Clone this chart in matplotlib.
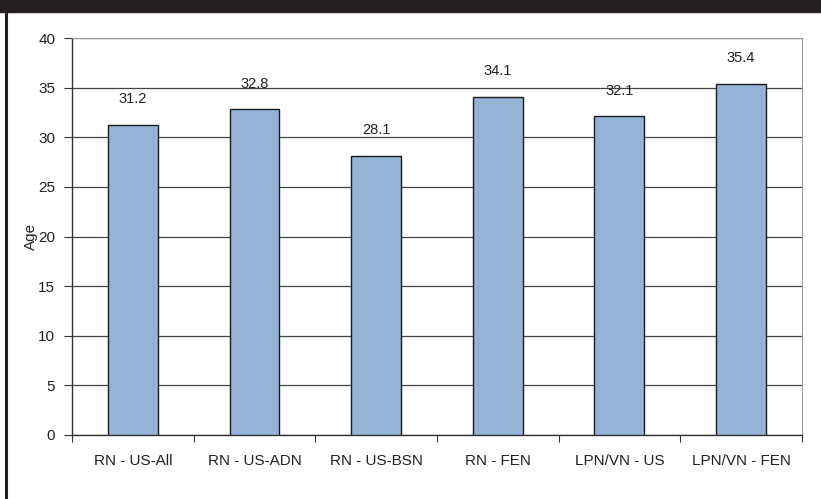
import matplotlib.pyplot as plt
from matplotlib.patches import Rectangle
from matplotlib.lines import Line2D

plt.rcParams['font.family'] = ['Liberation Sans', 'DejaVu Sans']

categories = ["RN - US-All", "RN - US-ADN", "RN - US-BSN", "RN - FEN", "LPN/VN - US", "LPN/VN - FEN"]
ages = [31.2, 32.8, 28.1, 34.1, 32.1, 35.4]

fig = plt.figure(figsize=(8.21, 4.99), dpi=100)
ax = fig.add_axes([0.0877, 0.1283, 0.889, 0.7955])

# dark band on top and frame line on the left
fig.patches.append(Rectangle((0, 1 - 12 / 499), 1, 12 / 499, transform=fig.transFigure,
                             color='#231f20', zorder=0))
fig.lines.append(Line2D([5.5 / 821, 5.5 / 821], [0, 1 - 12 / 499], transform=fig.transFigure,
                        color='#231f20', linewidth=2.2))

x = range(len(categories))
ax.bar(x, ages, width=0.41, color='#95b3d7', edgecolor='#1a1a1a', linewidth=1.0, zorder=3)
for i, v in enumerate(ages):
    ax.text(i, v + 1.9, f"{v:.1f}", ha='center', va='bottom', fontsize=10.5, color='#222222')

ax.set_xlim(-0.5, len(categories) - 0.5)
ax.set_ylim(0, 40)
ax.set_yticks(range(0, 41, 5))
ax.set_xticks([i + 0.5 for i in range(-1, len(categories))], minor=False)
ax.set_xticklabels([])
ax.set_xticks(list(x), minor=True)
ax.set_xticklabels(categories, minor=True, fontsize=11, color='#222222')
ax.tick_params(axis='x', which='minor', length=0, pad=14)
ax.tick_params(axis='x', which='major', length=5, direction='out', color='#333333')
ax.tick_params(axis='y', length=6, direction='out', labelsize=11, labelcolor='#222222', color='#333333', pad=6)
ax.yaxis.grid(True, color='#444444', linewidth=0.9, zorder=0)
ax.set_axisbelow(True)
ax.set_ylabel("Age", fontsize=11, color='#222222', labelpad=0)

for s in ['left', 'bottom']:
    ax.spines[s].set_color('#333333')
    ax.spines[s].set_linewidth(1.0)
ax.spines['top'].set_color('#999999')
ax.spines['right'].set_color('#999999')

fig.savefig('out.png', dpi=100)
